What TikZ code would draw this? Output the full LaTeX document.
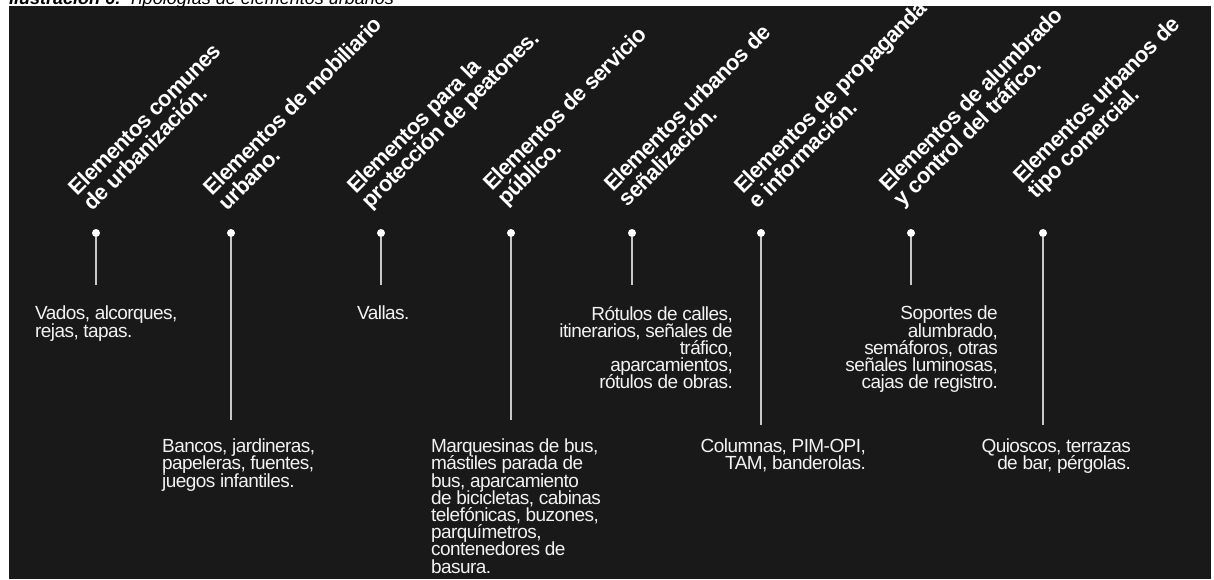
\documentclass[tikz,border=0pt]{standalone}
\usepackage{fontspec}
\setmainfont{Liberation Sans}
\newfontfamily\ttlfam[LetterSpace=-3]{Liberation Sans}
\newfontfamily\bodyfam[LetterSpace=-3]{Liberation Sans}
\definecolor{bgdark}{HTML}{191919}
\definecolor{stemcol}{HTML}{C8C8C8}
\definecolor{txtcol}{HTML}{F2F2F2}
\newcommand{\ttlfont}{\ttlfam\fontsize{22}{21}\selectfont\bfseries\lineskiplimit=-100pt}
\newcommand{\bodyfont}{\bodyfam\fontsize{19}{17.2}\selectfont\lineskiplimit=-100pt}
\tikzset{
  ttl/.style={rotate=45, anchor=south west, inner sep=0pt, align=left, text=white, font=\ttlfont},
  dotnode/.style={circle, fill=white, inner sep=0pt, minimum size=8pt},
  stemline/.style={draw=stemcol, line width=1.6pt},
  bodyl/.style={anchor=north west, inner sep=0pt, align=left, text=txtcol, font=\bodyfont},
  bodyr/.style={anchor=north east, inner sep=0pt, align=right, text=txtcol, font=\bodyfont},
}
\begin{document}
\begin{tikzpicture}[x=1pt,y=-1pt]
\useasboundingbox (0,0) rectangle (1214,579);
\fill[white] (0,0) rectangle (1214,579);
\fill[bgdark] (9,6) rectangle (1211,579);
\node[anchor=base west, inner sep=0pt, font=\fontsize{18}{20}\selectfont\itshape] (cap) at (9,4) {\textbf{Ilustración 6:} Tipologías de elementos urbanos};

% 1
\node[dotnode] (p1) at (96,233) {};
\coordinate (e1) at (96,285);
\draw[stemline] (p1) -- (e1);
\node[ttl] (t1) at (97.3,216.3) {Elementos comunes\\de urbanización.\strut};
\node[bodyl] (b1) at (35,306) {\strut Vados, alcorques,\\rejas, tapas.};

% 2
\node[dotnode] (p2) at (231,233) {};
\coordinate (e2) at (231,420);
\draw[stemline] (p2) -- (e2);
\node[ttl] (t2) at (232.3,216.3) {Elementos de mobiliario\\urbano.\strut};
\node[bodyl] (b2) at (162,438.7) {\strut Bancos, jardineras,\\papeleras, fuentes,\\juegos infantiles.};

% 3
\node[dotnode] (p3) at (381,233) {};
\coordinate (e3) at (381,285);
\draw[stemline] (p3) -- (e3);
\node[ttl] (t3) at (375.3,214.3) {Elementos para la\\protección de peatones.\strut};
\node[bodyl] (b3) at (357,306) {\strut Vallas.};

% 4
\node[dotnode] (p4) at (511,233) {};
\coordinate (e4) at (511,420);
\draw[stemline] (p4) -- (e4);
\node[ttl] (t4) at (511.3,211.3) {Elementos de servicio\\público.\strut};
\node[bodyl] (b4) at (431,438.7) {\strut Marquesinas de bus,\\mástiles parada de\\bus, aparcamiento\\de bicicletas, cabinas\\telefónicas, buzones,\\parquímetros,\\contenedores de\\basura.};

% 5
\node[dotnode] (p5) at (632,233) {};
\coordinate (e5) at (632,285);
\draw[stemline] (p5) -- (e5);
\node[ttl] (t5) at (632.3,212.3) {Elementos urbanos de\\señalización.\strut};
\node[bodyr] (b5) at (733,306) {\strut Rótulos de calles,\\itinerarios, señales de\\tráfico,\\aparcamientos,\\rótulos de obras.};

% 6
\node[dotnode] (p6) at (761,233) {};
\coordinate (e6) at (761,425);
\draw[stemline] (p6) -- (e6);
\node[ttl] (t6) at (762.3,214.3) {Elementos de propaganda\\e información.\strut};
\node[bodyr] (b6) at (866,438.7) {\strut Columnas, PIM-OPI,\\TAM, banderolas.};

% 7
\node[dotnode] (p7) at (911,233) {};
\coordinate (e7) at (911,285);
\draw[stemline] (p7) -- (e7);
\node[ttl] (t7) at (907.3,212.3) {Elementos de alumbrado\\y control del tráfico.\strut};
\node[bodyr] (b7) at (998,306) {\strut Soportes de\\alumbrado,\\semáforos, otras\\señales luminosas,\\cajas de registro.};

% 8
\node[dotnode] (p8) at (1043,233) {};
\coordinate (e8) at (1043,425);
\draw[stemline] (p8) -- (e8);
\node[ttl] (t8) at (1041.3,204.3) {Elementos urbanos de\\tipo comercial.\strut};
\node[bodyr] (b8) at (1131,438.7) {\strut Quioscos, terrazas\\de bar, pérgolas.};
\end{tikzpicture}
\end{document}
